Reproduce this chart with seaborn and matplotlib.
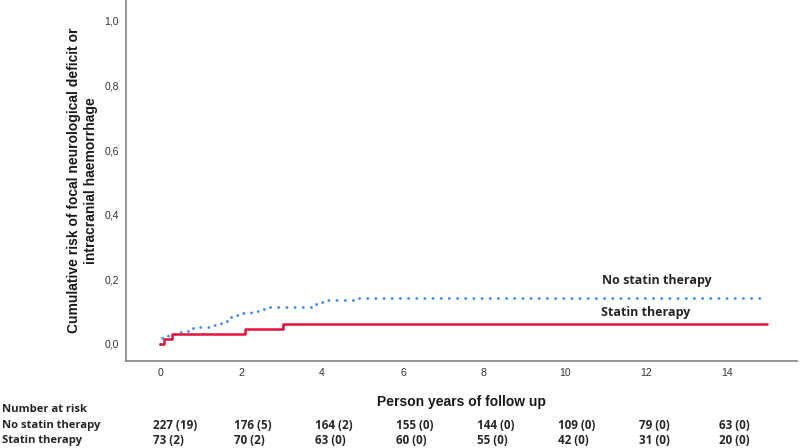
import numpy as np
import pandas as pd
import matplotlib
matplotlib.use("Agg")
import matplotlib.pyplot as plt
import seaborn as sns

# step curves (time in years, cumulative risk after step)
no_statin_t = [0.0, 0.03, 0.06, 0.2, 0.45, 0.6, 0.8, 1.0, 1.3, 1.5, 1.62, 1.72, 1.75,
               2.0, 2.25, 2.5, 2.65, 3.75, 3.95, 4.1, 4.78, 15.0]
no_statin_v = [0.0, 0.013, 0.022, 0.030, 0.036, 0.040, 0.048, 0.054, 0.060, 0.066, 0.072,
               0.080, 0.090, 0.096, 0.102, 0.108, 0.115, 0.123, 0.129, 0.135, 0.141, 0.141]
statin_t = [0.0, 0.1, 0.29, 2.1, 3.05, 15.0]
statin_v = [0.0, 0.015, 0.031, 0.046, 0.061, 0.061]

xticks = [0, 2, 4, 6, 8, 10, 12, 14]
risk_no_statin = ["227 (19)", "176 (5)", "164 (2)", "155 (0)", "144 (0)", "109 (0)", "79 (0)", "63 (0)"]
risk_statin = ["73 (2)", "70 (2)", "63 (0)", "60 (0)", "55 (0)", "42 (0)", "31 (0)", "20 (0)"]

blue = "#4a8fe3"
red = "#e2103c"
grey = "#8c8c8c"

sns.set_style("white")
plt.rcParams["font.family"] = ["Liberation Sans", "DejaVu Sans"]

fig = plt.figure(figsize=(8, 4.48), dpi=100)
ax = fig.add_axes([0.1575, 0.194, 0.8385, 0.806])

df_no = pd.DataFrame({"t": no_statin_t, "v": no_statin_v})
df_st = pd.DataFrame({"t": statin_t, "v": statin_v})

sns.lineplot(data=df_no, x="t", y="v", ax=ax, drawstyle="steps-post", color=blue,
             linewidth=2.1, linestyle=(0, (0.05, 2.75)), dash_capstyle="round",
             estimator=None, sort=False)
sns.lineplot(data=df_st, x="t", y="v", ax=ax, drawstyle="steps-post", color=red,
             linewidth=1.8, estimator=None, sort=False)

ax.set_xlim(-0.84, 15.73)
ax.set_ylim(-0.053, 1.065)
ax.set_xticks(xticks)
ax.set_yticks([0, 0.2, 0.4, 0.6, 0.8, 1.0])
ax.set_yticklabels(["0,0", "0,2", "0,4", "0,6", "0,8", "1,0"])
ax.tick_params(length=0, labelsize=7.5, labelcolor="#333333", pad=5)

for s in ["top", "right"]:
    ax.spines[s].set_visible(False)
for s in ["left", "bottom"]:
    ax.spines[s].set_color(grey)
    ax.spines[s].set_linewidth(1.3)

ax.set_xlabel("Person years of follow up", fontsize=10, fontweight="bold", labelpad=12,
              color="#1a1a1a")
ax.set_ylabel("Cumulative risk of focal neurological deficit or\nintracranial haemorrhage",
              fontsize=10, fontweight="bold", labelpad=5, color="#1a1a1a")

lab_font = ["Open Sans", "DejaVu Sans"]
ax.text(12.27, 0.195, "No statin therapy", family=lab_font, fontweight="bold",
        fontsize=9, ha="center", va="center")
ax.text(12.0, 0.097, "Statin therapy", family=lab_font, fontweight="bold",
        fontsize=9, ha="center", va="center")

# number at risk table
tr = ax.get_xaxis_transform()
row_y = [409, 425, 440]
def ax_y(py):
    return (361 - py) / 361.0

fig.text(0.002, 1 - row_y[0] / 448, "Number at risk", family=lab_font, fontweight="bold",
         fontsize=8.1, va="center")
fig.text(0.002, 1 - row_y[1] / 448, "No statin therapy", family=lab_font, fontweight="bold",
         fontsize=8.1, va="center")
fig.text(0.002, 1 - row_y[2] / 448, "Statin therapy", family=lab_font, fontweight="bold",
         fontsize=8.1, va="center")
for x, a, b in zip(xticks, risk_no_statin, risk_statin):
    ax.text(x - 0.18, ax_y(row_y[1]), a, transform=tr, family=lab_font, fontweight="bold",
            fontsize=8.4, va="center", ha="left", clip_on=False)
    ax.text(x - 0.18, ax_y(row_y[2]), b, transform=tr, family=lab_font, fontweight="bold",
            fontsize=8.4, va="center", ha="left", clip_on=False)

fig.savefig("out.png", dpi=100)
